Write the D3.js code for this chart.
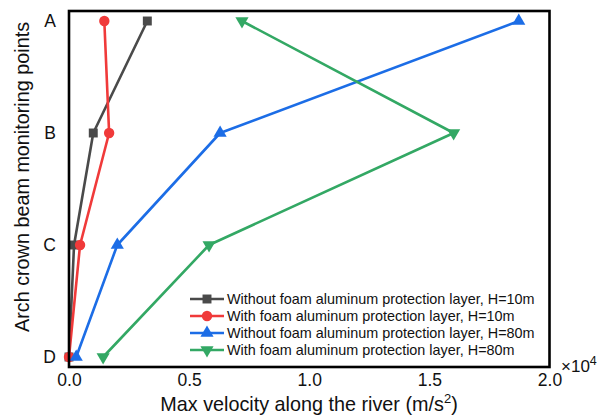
<!DOCTYPE html>
<html>
<head>
<meta charset="utf-8">
<script src="https://cdn.jsdelivr.net/npm/d3@7"></script>
<style>
  html, body { margin: 0; padding: 0; background: #fff; }
  svg { display: block; font-family: "Liberation Sans", Arial, sans-serif; }
</style>
</head>
<body>
<svg id="chart" width="597" height="417"></svg>
<script>
// Monitoring points along the arch crown beam (top to bottom)
const points = ["A", "B", "C", "D"];
const xTicks = [0.0, 0.5, 1.0, 1.5, 2.0];

// Max velocity along the river, in units of 10^4 m/s^2
const withoutFoam10 = [0.326, 0.101, 0.021, 0.0];
const withFoam10    = [0.147, 0.167, 0.046, 0.0];
const withoutFoam80 = [1.872, 0.629, 0.201, 0.03];
const withFoam80    = [0.72, 1.601, 0.583, 0.142];

const seriesNames = [
  "Without foam aluminum protection layer, H=10m",
  "With foam aluminum protection layer, H=10m",
  "Without foam aluminum protection layer, H=80m",
  "With foam aluminum protection layer, H=80m"
];

const series = [
  { name: seriesNames[0], values: withoutFoam10, color: "#4a4a4a", symbol: d3.symbolSquare, size: 80, rot: 0 },
  { name: seriesNames[1], values: withFoam10,    color: "#f03a3a", symbol: d3.symbolCircle, size: 85, rot: 0 },
  { name: seriesNames[2], values: withoutFoam80, color: "#1c6de6", symbol: d3.symbolTriangle, size: 75, rot: 0 },
  { name: seriesNames[3], values: withFoam80,    color: "#33a864", symbol: d3.symbolTriangle, size: 75, rot: 180 }
];

const svg = d3.select("#chart");
const plot = { left: 69, right: 549.5, top: 11, bottom: 367 };

const x = d3.scaleLinear().domain([0, 2]).range([plot.left, plot.right]);
const y = d3.scalePoint().domain(points).range([21, 357]);

// Lines and markers
series.forEach(s => {
  const pts = s.values.map((v, i) => [x(v), y(points[i])]);
  svg.append("path")
    .attr("d", d3.line()(pts))
    .attr("fill", "none")
    .attr("stroke", s.color)
    .attr("stroke-width", 2.6)
    .attr("stroke-linejoin", "round");
  svg.selectAll(null).data(pts).enter().append("path")
    .attr("d", d3.symbol().type(s.symbol).size(s.size))
    .attr("transform", d => `translate(${d[0]},${d[1]}) rotate(${s.rot})`)
    .attr("fill", s.color);
});

// Frame
svg.append("rect")
  .attr("x", plot.left).attr("y", plot.top)
  .attr("width", plot.right - plot.left).attr("height", plot.bottom - plot.top)
  .attr("fill", "none").attr("stroke", "#000").attr("stroke-width", 2.6);

// Axes (labels only, no tick marks)
const xAxis = d3.axisBottom(x).tickValues(xTicks).tickFormat(d3.format(".1f")).tickSize(0).tickPadding(7);
const gx = svg.append("g").attr("transform", `translate(0,${plot.bottom})`).call(xAxis);
gx.select(".domain").remove();
gx.selectAll("text").attr("font-size", 17.5).attr("fill", "#111").attr("font-family", "Liberation Sans, Arial, sans-serif");

const yAxis = d3.axisLeft(y).tickSize(0).tickPadding(13);
const gy = svg.append("g").attr("transform", `translate(${plot.left},0)`).call(yAxis);
gy.select(".domain").remove();
gy.selectAll("text").attr("font-size", 17.5).attr("fill", "#111").attr("font-family", "Liberation Sans, Arial, sans-serif");

// Exponent marker
const exp = svg.append("text").attr("x", 561).attr("y", 372).attr("font-size", 17).attr("fill", "#111");
exp.append("tspan").text("\u00d710");
exp.append("tspan").attr("font-size", 12.5).attr("dy", -7).text("4");

// Axis titles
const xt = svg.append("text").attr("x", 309).attr("y", 411).attr("text-anchor", "middle")
  .attr("font-size", 19.8).attr("fill", "#111");
xt.append("tspan").text("Max velocity along the river (m/s");
xt.append("tspan").attr("font-size", 13).attr("dy", -8).text("2");
xt.append("tspan").attr("dy", 8).text(")");

svg.append("text")
  .attr("transform", `translate(29,177) rotate(-90)`)
  .attr("text-anchor", "middle").attr("font-size", 19.8).attr("fill", "#111")
  .text("Arch crown beam monitoring points");

// Legend
const legend = svg.append("g").attr("transform", "translate(190,299)");
series.forEach((s, i) => {
  const g = legend.append("g").attr("transform", `translate(0,${i * 17})`);
  g.append("line").attr("x1", 0).attr("x2", 34).attr("y1", 0).attr("y2", 0)
    .attr("stroke", s.color).attr("stroke-width", 2.6);
  g.append("path").attr("d", d3.symbol().type(s.symbol).size(s.size))
    .attr("transform", `translate(17,0) rotate(${s.rot})`).attr("fill", s.color);
  g.append("text").attr("x", 37).attr("y", 0).attr("dy", "0.36em")
    .attr("font-size", 14.4).attr("fill", "#111").text(s.name);
});
</script>
</body>
</html>
